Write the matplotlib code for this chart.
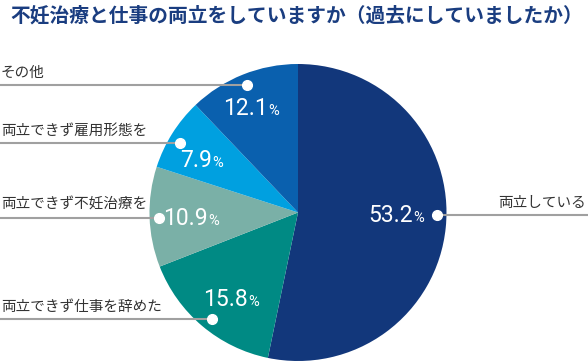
import matplotlib.pyplot as plt

# data
categories = ['両立している', '両立できず仕事を辞めた', '両立できず不妊治療を', '両立できず雇用形態を', 'その他']
shares = [53.2, 15.8, 10.9, 7.9, 12.1]
colors = ['#12377b', '#008a84', '#7ab0a7', '#00a0e0', '#0a60ae']
title = '不妊治療と仕事の両立をしていますか（過去にしていましたか）'

W, H = 588, 362
jp = ['Noto Sans CJK JP', 'DejaVu Sans']
num_font = ['Roboto', 'DejaVu Sans']

fig = plt.figure(figsize=(W / 100, H / 100), dpi=100)
ax = fig.add_axes([0, 0, 1, 1])

# pie: center and radius in pixel units (y up)
cx, cy, r = 298, H - 212.5, 148.5
ax.pie(shares, colors=colors, startangle=90, counterclock=False,
       center=(cx, cy), radius=r, wedgeprops=dict(linewidth=0))
ax.set_xlim(0, W)
ax.set_ylim(0, H)
ax.set_aspect('auto')
ax.axis('off')

# label layout (pixel coords, y down): dot, label text, number text
dots = [(437, 215), (212, 319), (159, 218), (180, 143), (247, 85)]
label_y = [203, 307, 205, 131, 73]
num_pos = [(413, 222), (248, 306), (208, 225), (212, 167), (268, 115)]

for i, name in enumerate(categories):
    dx, dy = dots[i]
    if i == 0:
        ax.plot([dx, W], [H - dy, H - dy], color='#a0a0a0', lw=1.5, zorder=3)
        ax.text(W - 2, H - label_y[i], name, ha='right', va='center',
                fontsize=10.5, color='#333333', family=jp)
    else:
        ax.plot([0, dx], [H - dy, H - dy], color='#a0a0a0', lw=1.5, zorder=3)
        ax.text(1, H - label_y[i], name, ha='left', va='center',
                fontsize=10.5, color='#333333', family=jp)
    ax.plot(dx, H - dy, 'o', color='white', markersize=7, zorder=4)
    nx, ny = num_pos[i]
    ax.text(nx, H - ny, f'{shares[i]:.1f}', ha='right', va='baseline',
            fontsize=16.5, color='white', family=num_font)
    ax.text(nx, H - ny, '%', ha='left', va='baseline',
            fontsize=10.5, color='white', family=num_font)

ax.text(10, H - 16, title, ha='left', va='center', fontsize=14.2,
        fontweight='bold', color='#1a3d80', family=jp)

fig.savefig('out.png', dpi=100)
